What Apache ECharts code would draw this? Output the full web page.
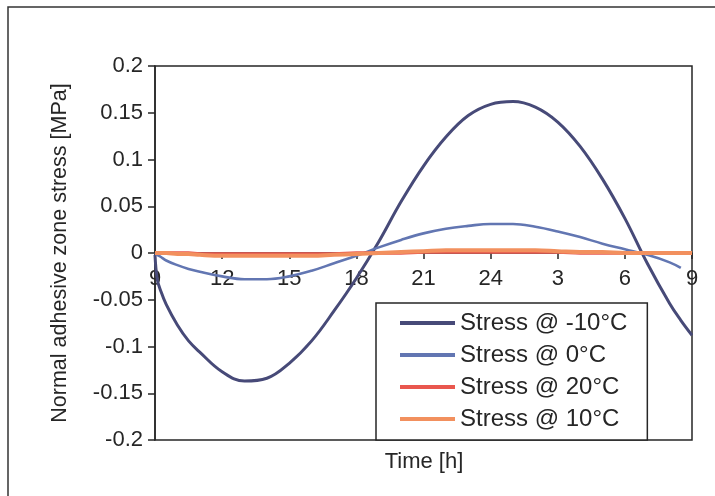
<!DOCTYPE html>
<html>
<head>
<meta charset="utf-8">
<title>Normal adhesive zone stress</title>
<script src="https://cdn.jsdelivr.net/npm/echarts@6/dist/echarts.min.js"></script>
<style>
  html, body { margin: 0; padding: 0; background: #fff; }
  #chart { width: 715px; height: 496px; }
</style>
</head>
<body>
<div id="chart"></div>
<script>
// Hours elapsed since 9:00 (one full daily cycle)
const hours = [0, 0.1, 0.25, 0.5, 1, 1.5, 2, 3, 4, 5, 6, 7, 8, 9, 10, 11, 12, 13, 14, 15, 16, 17, 18, 19, 20, 21, 22, 23, 23.5, 24];

// Clock labels shown under the axis ticks (every 3 h starting at 9:00)
const clockLabels = ['9', '12', '15', '18', '21', '24', '3', '6', '9'];

// Normal stress in the adhesive zone [MPa]
const stressMinus10 = [-0.002, -0.028, -0.040, -0.055, -0.077, -0.094, -0.106, -0.127, -0.137, -0.134, -0.118, -0.094, -0.062, -0.027, 0.012, 0.055, 0.093, 0.124, 0.147, 0.159, 0.162, 0.156, 0.140, 0.114, 0.079, 0.037, -0.011, -0.054, -0.072, -0.088];
const stress0 = [0, -0.002, -0.004, -0.008, -0.013, -0.017, -0.020, -0.025, -0.028, -0.028, -0.025, -0.019, -0.011, -0.003, 0.006, 0.014, 0.021, 0.026, 0.029, 0.031, 0.031, 0.028, 0.023, 0.017, 0.010, 0.004, -0.002, -0.010, -0.016, null];
const stress20 = [0, 0, 0, 0, 0, 0, -0.001, -0.001, -0.001, -0.001, -0.001, -0.001, -0.001, 0, 0, 0, 0.001, 0.001, 0.001, 0.001, 0.001, 0.001, 0.001, 0, 0, 0, 0, 0, 0, 0];
const stress10 = [0, 0, 0, 0, -0.001, -0.001, -0.002, -0.003, -0.003, -0.003, -0.003, -0.003, -0.002, -0.001, 0, 0.001, 0.002, 0.003, 0.003, 0.003, 0.003, 0.003, 0.002, 0.001, 0.001, 0, 0, 0, 0, 0];

const seriesNames = ['Stress @ -10°C', 'Stress @ 0°C', 'Stress @ 20°C', 'Stress @ 10°C'];
const seriesValues = [stressMinus10, stress0, stress20, stress10];
const seriesColors = ['#474a78', '#6276b2', '#e9574e', '#f2905e'];
const seriesWidths = [3, 2.6, 3.4, 4];

const FONT = '"Liberation Sans", Arial, Helvetica, sans-serif';
const INK = '#262626';

// Plot box, in pixels
const GRID_TOP = 66;
const GRID_BOTTOM = 56;
const CHART_H = 496;
const Y_MIN = -0.2;
const Y_MAX = 0.2;

// The time axis runs along the zero-stress line: shift it up from the
// bottom edge of the plot box to where y = 0 falls.
const plotH = CHART_H - GRID_TOP - GRID_BOTTOM;
const zeroOffset = -plotH * (0 - Y_MIN) / (Y_MAX - Y_MIN);

function pairs(values) {
  return hours.map((h, i) => [h, values[i]]);
}

const chart = echarts.init(document.getElementById('chart'), null, { renderer: 'canvas' });

chart.setOption({
  animation: false,
  backgroundColor: '#fff',
  textStyle: { fontFamily: FONT },
  grid: {
    left: 155, right: 23, top: GRID_TOP, bottom: GRID_BOTTOM,
    show: true, borderColor: INK, borderWidth: 1.5,
    backgroundColor: 'transparent'
  },
  xAxis: {
    type: 'value',
    min: 0, max: 24, interval: 3,
    position: 'bottom',
    offset: zeroOffset,
    axisLine: { onZero: false, lineStyle: { color: INK, width: 1.5 } },
    axisTick: { show: true, inside: false, length: 6, lineStyle: { color: INK, width: 1.5 } },
    axisLabel: {
      margin: 15, fontSize: 22, color: INK, fontFamily: FONT,
      formatter: v => clockLabels[Math.round(v / 3)]
    },
    splitLine: { show: false }
  },
  yAxis: {
    type: 'value',
    min: Y_MIN, max: Y_MAX, interval: 0.05,
    name: 'Normal adhesive zone stress [MPa]',
    nameLocation: 'middle',
    nameGap: 84,
    nameTextStyle: { fontSize: 21.5, color: INK, fontFamily: FONT },
    axisLine: { show: true, onZero: false, lineStyle: { color: INK, width: 1.5 } },
    axisTick: { show: true, inside: false, length: 7, lineStyle: { color: INK, width: 1.5 } },
    axisLabel: { margin: 12, fontSize: 22, color: INK, fontFamily: FONT },
    splitLine: { show: false }
  },
  legend: {
    orient: 'vertical',
    left: 376, top: 303,
    padding: [8, 20, 9, 24],
    itemWidth: 55, itemHeight: 4, itemGap: 8,
    icon: 'rect',
    backgroundColor: '#fff',
    borderColor: INK, borderWidth: 1.5,
    textStyle: { fontSize: 24, lineHeight: 24, color: INK, fontFamily: FONT },
    data: seriesNames
  },
  graphic: [
    {
      type: 'polyline',
      shape: { points: [[8, 496], [8, 7], [715, 7]] },
      style: { stroke: '#333', lineWidth: 1.5, fill: null },
      silent: true
    },
    {
      type: 'text',
      x: 424, y: 462,
      style: {
        text: 'Time [h]', font: '22px ' + FONT, fill: INK,
        textAlign: 'center', textVerticalAlign: 'middle'
      },
      silent: true
    }
  ],
  series: seriesNames.map((name, i) => ({
    name: name,
    type: 'line',
    data: pairs(seriesValues[i]),
    smooth: 0.4,
    showSymbol: false,
    connectNulls: false,
    itemStyle: { color: seriesColors[i] },
    lineStyle: { color: seriesColors[i], width: seriesWidths[i] },
    z: 2 + i
  }))
});
</script>
</body>
</html>
